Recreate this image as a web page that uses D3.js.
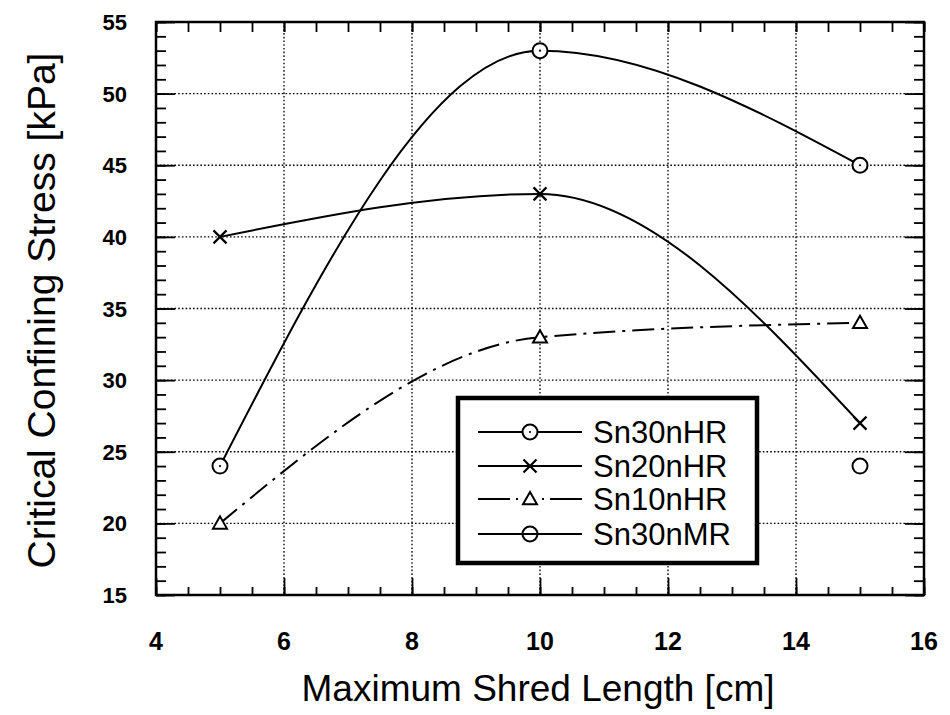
<!DOCTYPE html>
<html>

<head>
    <script type="text/javascript" src="https://d3js.org/d3.v7.min.js"></script>
    <style>
        body {
            margin: 0;
            background: #ffffff;
        }

        svg {
            display: block;
            background: #ffffff;
        }

        .grid line {
            stroke: #000;
            stroke-width: 1.3px;
            stroke-dasharray: 1.6, 2.1;
        }

        .ticks path {
            display: none;
        }

        .ticks line {
            stroke: #000;
            stroke-width: 1.8px;
        }

        .line {
            fill: none;
            stroke: #000;
            stroke-width: 2px;
        }
    </style>
</head>

<body>
    <div id="container"></div>

    <script>
        // data
        var shredLength = [5, 10, 15];
        var sn30nHR = [24, 53, 45];
        var sn20nHR = [40, 43, 27];
        var sn10nHR = [20, 33, 34];
        var sn30nMRLength = [15];
        var sn30nMR = [24];

        var xTicks = [4, 6, 8, 10, 12, 14, 16];
        var yTicks = [15, 20, 25, 30, 35, 40, 45, 50, 55];
        var legendNames = ["Sn30nHR", "Sn20nHR", "Sn10nHR", "Sn30nMR"];

        // set the dimensions and margins of the graph
        var margin = {
                top: 22,
                right: 26,
                bottom: 120,
                left: 156
            },
            width = 950 - margin.left - margin.right,
            height = 715 - margin.top - margin.bottom;

        var x = d3.scaleLinear().domain([4, 16]).range([0, width]);
        var y = d3.scaleLinear().domain([15, 55]).range([height, 0]);

        var svg = d3.select("#container").append("svg")
            .attr("width", 950)
            .attr("height", 715)
            .append("g")
            .attr("transform", "translate(" + margin.left + "," + margin.top + ")");

        // dotted grid
        svg.append("g").attr("class", "grid")
            .selectAll("line")
            .data(xTicks.slice(1, -1))
            .enter().append("line")
            .attr("x1", function(d) { return x(d); })
            .attr("x2", function(d) { return x(d); })
            .attr("y1", 0)
            .attr("y2", height);

        svg.append("g").attr("class", "grid")
            .selectAll("line")
            .data(yTicks.slice(1, -1))
            .enter().append("line")
            .attr("y1", function(d) { return y(d); })
            .attr("y2", function(d) { return y(d); })
            .attr("x1", 0)
            .attr("x2", width);

        // minor / major ticks, pointing inwards on all four sides
        var xMinor = d3.range(4, 16.01, 0.5);
        var yMinor = d3.range(15, 55.01, 1);

        svg.append("g").attr("class", "ticks")
            .attr("transform", "translate(0," + height + ")")
            .call(d3.axisBottom(x).tickValues(xMinor).tickSize(-8).tickFormat(""));
        svg.append("g").attr("class", "ticks")
            .attr("transform", "translate(0," + height + ")")
            .call(d3.axisBottom(x).tickValues(xTicks).tickSize(-17).tickFormat(""));
        svg.append("g").attr("class", "ticks")
            .call(d3.axisTop(x).tickValues(xMinor).tickSize(-10).tickFormat(""));
        svg.append("g").attr("class", "ticks")
            .call(d3.axisTop(x).tickValues(xTicks).tickSize(-10).tickFormat(""));

        svg.append("g").attr("class", "ticks")
            .call(d3.axisLeft(y).tickValues(yMinor).tickSize(-10).tickFormat(""));
        svg.append("g").attr("class", "ticks")
            .call(d3.axisLeft(y).tickValues(yTicks).tickSize(-19).tickFormat(""));
        svg.append("g").attr("class", "ticks")
            .attr("transform", "translate(" + width + ",0)")
            .call(d3.axisRight(y).tickValues(yMinor).tickSize(-10).tickFormat(""));
        svg.append("g").attr("class", "ticks")
            .attr("transform", "translate(" + width + ",0)")
            .call(d3.axisRight(y).tickValues(yTicks).tickSize(-19).tickFormat(""));

        // tick labels
        svg.append("g").selectAll("text")
            .data(xTicks)
            .enter().append("text")
            .attr("x", function(d) { return x(d); })
            .attr("y", height + 55)
            .style("text-anchor", "middle")
            .style("font", "bold 25px 'Liberation Sans', Arial, sans-serif")
            .text(function(d) { return d; });

        svg.append("g").selectAll("text")
            .data(yTicks)
            .enter().append("text")
            .attr("x", -29)
            .attr("y", function(d) { return y(d) + 8; })
            .style("text-anchor", "end")
            .style("font", "bold 22px 'Liberation Sans', Arial, sans-serif")
            .text(function(d) { return d; });

        // axis titles
        svg.append("text")
            .attr("x", width / 2 - 2)
            .attr("y", height + 106)
            .style("text-anchor", "middle")
            .style("font", "37px 'Liberation Sans', Arial, sans-serif")
            .text("Maximum Shred Length [cm]");

        svg.append("text")
            .attr("transform", "translate(" + (-101) + "," + (height / 2 + 2) + ") rotate(-90)")
            .style("text-anchor", "middle")
            .style("font", "39px 'Liberation Sans', Arial, sans-serif")
            .text("Critical Confining Stress [kPa]");

        // curves
        var valueline = d3.line()
            .curve(d3.curveMonotoneX)
            .x(function(d) { return x(d[0]); })
            .y(function(d) { return y(d[1]); });

        function pairs(xs, ys) {
            return xs.map(function(v, i) { return [v, ys[i]]; });
        }

        svg.append("path").datum(pairs(shredLength, sn30nHR))
            .attr("class", "line").attr("d", valueline);
        svg.append("path").datum(pairs(shredLength, sn20nHR))
            .attr("class", "line").attr("d", valueline);
        svg.append("path").datum(pairs(shredLength, sn10nHR))
            .attr("class", "line").attr("d", valueline)
            .style("stroke-dasharray", "22,7,3,7");

        // marker helpers
        function circleDot(g, cx, cy) {
            g.append("circle").attr("cx", cx).attr("cy", cy).attr("r", 7.5)
                .style("fill", "#fff").style("stroke", "#000").style("stroke-width", 2);
            g.append("circle").attr("cx", cx).attr("cy", cy).attr("r", 1.1)
                .style("fill", "#000");
        }

        function circleOpen(g, cx, cy) {
            g.append("circle").attr("cx", cx).attr("cy", cy).attr("r", 7.5)
                .style("fill", "none").style("stroke", "#000").style("stroke-width", 2);
        }

        function cross(g, cx, cy) {
            var s = 6.5;
            g.append("path")
                .attr("d", "M" + (cx - s) + "," + (cy - s) + "L" + (cx + s) + "," + (cy + s) +
                    "M" + (cx - s) + "," + (cy + s) + "L" + (cx + s) + "," + (cy - s))
                .style("stroke", "#000").style("stroke-width", 2.2).style("fill", "none");
        }

        function triangle(g, cx, cy) {
            var s = 7;
            g.append("path")
                .attr("d", "M" + cx + "," + (cy - s) + "L" + (cx + s) + "," + (cy + s * 0.75) +
                    "L" + (cx - s) + "," + (cy + s * 0.75) + "Z")
                .style("stroke", "#000").style("stroke-width", 2).style("fill", "#fff");
        }

        var markers = svg.append("g");
        shredLength.forEach(function(v, i) {
            circleDot(markers, x(v), y(sn30nHR[i]));
            cross(markers, x(v), y(sn20nHR[i]));
            triangle(markers, x(v), y(sn10nHR[i]));
        });
        sn30nMRLength.forEach(function(v, i) {
            circleOpen(markers, x(v), y(sn30nMR[i]));
        });

        // frame
        svg.append("rect")
            .attr("width", width)
            .attr("height", height)
            .style("fill", "none")
            .style("stroke", "#000")
            .style("stroke-width", 2.5);

        // legend
        var lg = svg.append("g").attr("transform", "translate(" + (458 - margin.left) + "," + (398 - margin.top) + ")");
        lg.append("rect")
            .attr("width", 299)
            .attr("height", 165)
            .style("fill", "#fff")
            .style("stroke", "#000")
            .style("stroke-width", 4.5);

        var rowY = [34, 68, 101, 136];
        var drawMark = [circleDot, cross, triangle, circleOpen];
        legendNames.forEach(function(name, i) {
            var ln = lg.append("line")
                .attr("x1", 20).attr("x2", 124)
                .attr("y1", rowY[i]).attr("y2", rowY[i])
                .style("stroke", "#000").style("stroke-width", 2);
            if (i === 2) ln.style("stroke-dasharray", "32,6,2,24,2,6,32");
            drawMark[i](lg, 72, rowY[i]);
            lg.append("text")
                .attr("x", 135)
                .attr("y", rowY[i] + 11)
                .style("font", "31px 'Liberation Sans', Arial, sans-serif")
                .text(name);
        });
    </script>
</body>

</html>
